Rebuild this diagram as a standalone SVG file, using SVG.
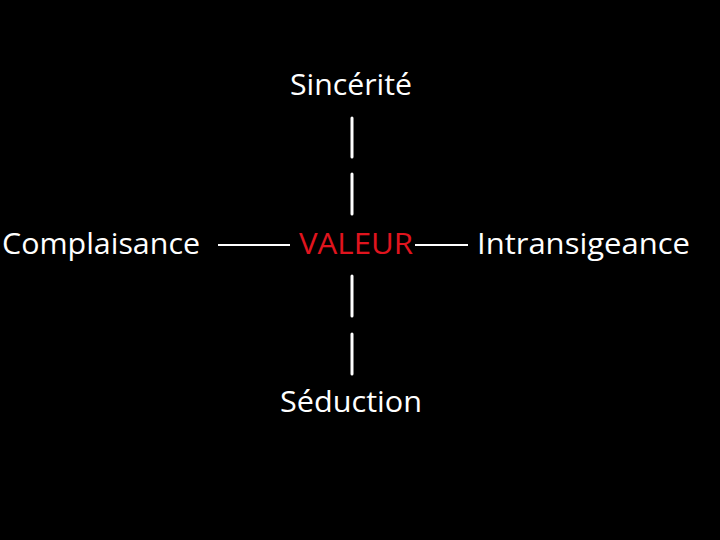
<svg xmlns="http://www.w3.org/2000/svg" width="720" height="540" viewBox="0 0 720 540">
<style>
text{font-family:"Open Sans","Noto Sans","Liberation Sans",sans-serif;font-size:29px;fill:#fff}
.red{fill:#e0141e}
.v{stroke:#fff;stroke-width:3;stroke-linecap:round}
.h{stroke:#fff;stroke-width:2}
</style>
<rect width="720" height="540" fill="#000"/>
<g id="connectors">
<line class="v" x1="352" y1="118" x2="352" y2="157"/>
<line class="v" x1="352" y1="174" x2="352" y2="214"/>
<line class="v" x1="352" y1="276" x2="352" y2="316"/>
<line class="v" x1="352" y1="334" x2="352" y2="374"/>
<line class="h" x1="218" y1="245" x2="290" y2="245"/>
<line class="h" x1="415" y1="245" x2="468" y2="245"/>
</g>
<g id="sincerite"><text x="290" y="95" textLength="122" lengthAdjust="spacingAndGlyphs">Sincérité</text></g>
<g id="complaisance"><text x="2" y="254" textLength="198" lengthAdjust="spacingAndGlyphs">Complaisance</text></g>
<g id="valeur"><text class="red" x="299" y="254" textLength="114" lengthAdjust="spacingAndGlyphs">VALEUR</text></g>
<g id="intransigeance"><text x="477" y="254" textLength="213" lengthAdjust="spacingAndGlyphs">Intransigeance</text></g>
<g id="seduction"><text x="280" y="412" textLength="142" lengthAdjust="spacingAndGlyphs">Séduction</text></g>
</svg>
